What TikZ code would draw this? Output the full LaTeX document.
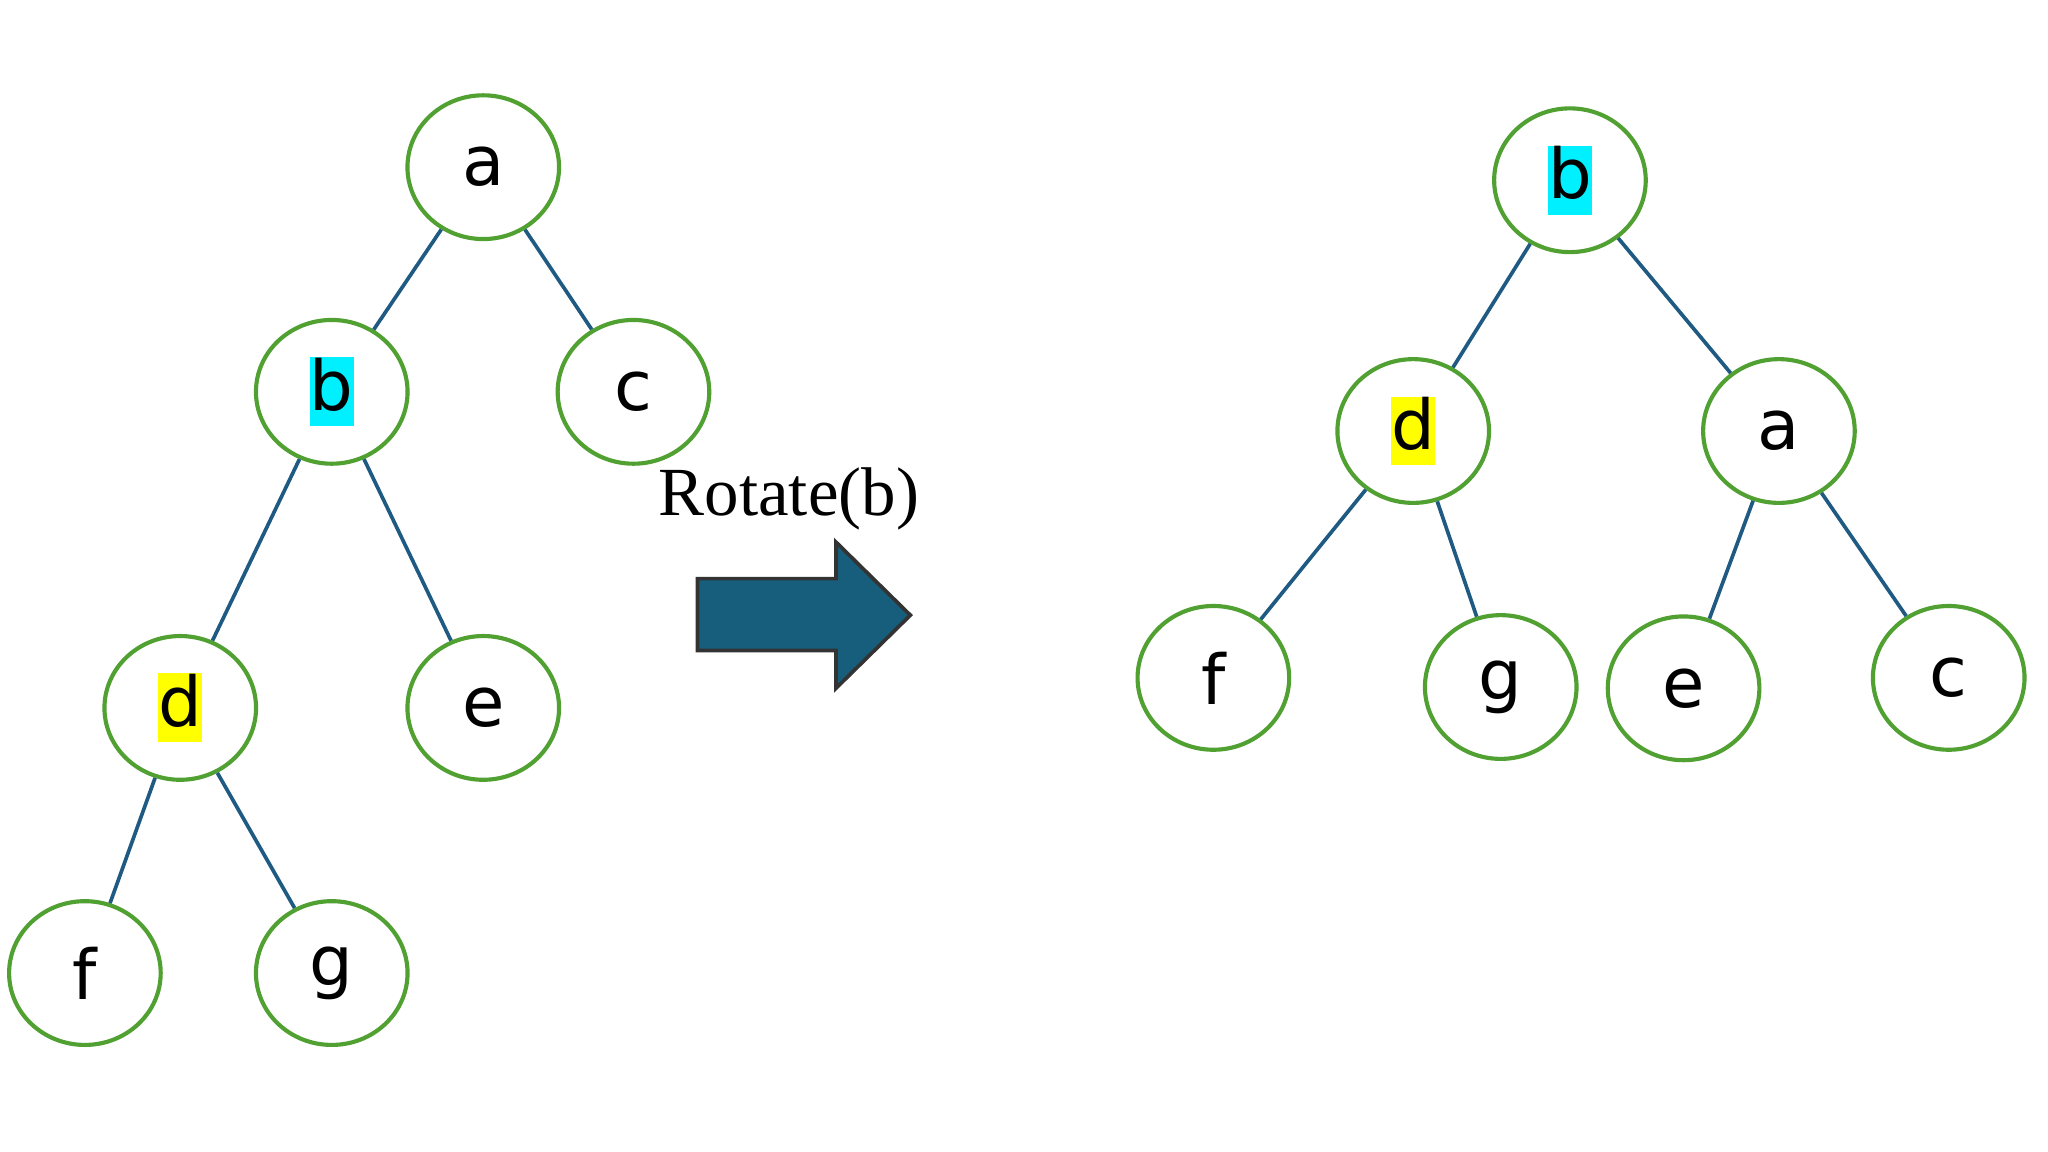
\documentclass[tikz,border=0pt]{standalone}
\usepackage{fontspec}
\usetikzlibrary{shapes.geometric}
\setmainfont{DejaVu Sans}
\newfontfamily\serifrot{Liberation Serif}
\definecolor{ngreen}{RGB}{80,160,50}
\definecolor{eblue}{RGB}{30,90,130}
\definecolor{afill}{RGB}{23,94,125}
\definecolor{hcyan}{RGB}{0,240,255}
\definecolor{hyel}{RGB}{255,255,0}
\newcommand{\hl}[2]{{\setlength{\fboxsep}{0pt}\colorbox{#1}{\rule[-3.5pt]{0pt}{15pt}#2}}}
\begin{document}
\begin{tikzpicture}[x=0.01cm,y=-0.01cm,
  tn/.style={ellipse,draw=ngreen,line width=0.9pt,minimum width=1.16cm,minimum height=1.1cm,inner sep=0pt,font=\fontsize{15}{18}\selectfont},
  ed/.style={draw=eblue,line width=0.8pt}]
\useasboundingbox (0,0) rectangle (1568,882);
\begin{scope}[every node/.style={tn}]
\node (a) at (370,128) {a};
\node (b) at (254,300) {\hl{hcyan}{b}};
\node (c) at (485,300) {c};
\node (d) at (138,542) {\hl{hyel}{d}};
\node (e) at (370,542) {e};
\node (f) at (65,745) {f};
\node (g) at (254,745) {g};
\node (B) at (1202,138) {\hl{hcyan}{b}};
\node (D) at (1082,330) {\hl{hyel}{d}};
\node (A) at (1362,330) {a};
\node (F) at (929,519) {f};
\node (G) at (1149,526) {g};
\node (E) at (1289,527) {e};
\node (C) at (1492,519) {c};
\end{scope}
\foreach \u/\v in {a/b,a/c,b/d,b/e,d/f,d/g,B/D,B/A,D/F,D/G,A/E,A/C}
  \draw[ed] (\u) -- (\v);
\node (rot) at (604,382) {\serifrot\fontsize{15}{18}\selectfont Rotate(b)};
\draw[fill=afill,draw=black!80,line width=0.8pt] (534,443) -- (640,443) -- (640,415) -- (697,471) -- (640,527) -- (640,498) -- (534,498) -- cycle;
\end{tikzpicture}
\end{document}
